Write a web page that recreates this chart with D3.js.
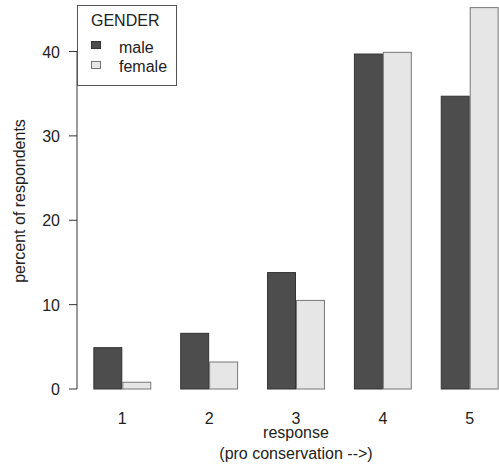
<!DOCTYPE html>
<html>
<head>
<meta charset="utf-8">
<script src="https://cdn.jsdelivr.net/npm/d3@7"></script>
<style>
    body { margin: 0; background: #fff; }
    svg { display: block; font-family: "Liberation Sans", Arial, sans-serif; }
    .tick-label, .axis-label, .legend text { fill: #222; font-size: 16px; }
</style>
</head>
<body>
<div id="chart"></div>
<script>
const width = 499;
const height = 470;

// data
const responses = ["1", "2", "3", "4", "5"];
const genders = ["male", "female"];
const male = [4.9, 6.6, 13.8, 39.7, 34.7];
const female = [0.8, 3.2, 10.5, 39.9, 45.2];
const yTicks = [0, 10, 20, 30, 40];

const colors = { male: "#4d4d4d", female: "#e6e6e6" };
const strokes = { male: "#333", female: "#777" };

const data = responses.map((r, i) => ({ response: r, male: male[i], female: female[i] }));

const svg = d3.select("#chart")
    .append("svg")
    .attr("width", width)
    .attr("height", height);

// SCALES
const x0 = d3.scaleBand()
    .domain(responses)
    .range([64.4, 527.6])
    .paddingInner(1 / 3)
    .paddingOuter(1 / 3);

const x1 = d3.scaleBand()
    .domain(genders)
    .range([0, x0.bandwidth()]);

const y = d3.scaleLinear()
    .domain([0, 40])
    .range([389, 51.5]);

const axisX = 77;

// Y AXIS
svg.append("line")
    .attr("x1", axisX).attr("x2", axisX)
    .attr("y1", y(0)).attr("y2", y(40))
    .attr("stroke", "#777")
    .attr("stroke-width", 1.5);

svg.selectAll(".ytick")
    .data(yTicks)
    .enter()
    .append("line")
    .attr("class", "ytick")
    .attr("x1", 69).attr("x2", axisX)
    .attr("y1", d => y(d)).attr("y2", d => y(d))
    .attr("stroke", "#333");

svg.selectAll(".ylab")
    .data(yTicks)
    .enter()
    .append("text")
    .attr("class", "tick-label")
    .attr("x", 60)
    .attr("y", d => y(d) + 6)
    .attr("text-anchor", "end")
    .text(d => d);

// BARS
const groups = svg.selectAll(".group")
    .data(data)
    .enter()
    .append("g")
    .attr("transform", d => `translate(${x0(d.response)},0)`);

groups.selectAll("rect")
    .data(d => genders.map(g => ({ key: g, value: d[g] })))
    .enter()
    .append("rect")
    .attr("x", d => x1(d.key) + 0.5)
    .attr("y", d => y(d.value))
    .attr("width", x1.bandwidth() - 1)
    .attr("height", d => y(0) - y(d.value))
    .attr("fill", d => colors[d.key])
    .attr("stroke", d => strokes[d.key])
    .attr("stroke-width", 1);

// X LABELS
svg.selectAll(".xlab")
    .data(responses)
    .enter()
    .append("text")
    .attr("class", "tick-label")
    .attr("x", d => x0(d) + x0.bandwidth() / 2)
    .attr("y", 424)
    .attr("text-anchor", "middle")
    .text(d => d);

const xc = (x0.range()[0] + x0.range()[1]) / 2;

svg.append("text")
    .attr("class", "axis-label")
    .attr("x", xc)
    .attr("y", 438)
    .attr("text-anchor", "middle")
    .text("response");

svg.append("text")
    .attr("class", "axis-label")
    .attr("x", xc)
    .attr("y", 459)
    .attr("text-anchor", "middle")
    .text("(pro conservation -->)");

// Y LABEL
svg.append("text")
    .attr("class", "axis-label")
    .attr("transform", "translate(25,201) rotate(-90)")
    .attr("text-anchor", "middle")
    .text("percent of respondents");

// LEGEND
const legend = svg.append("g").attr("class", "legend");

legend.append("rect")
    .attr("x", 77.5).attr("y", 5.5)
    .attr("width", 99).attr("height", 80)
    .attr("fill", "#fff")
    .attr("stroke", "#555");

legend.append("text")
    .attr("x", 91)
    .attr("y", 25.5)
    .text("GENDER");

genders.forEach((g, i) => {
    legend.append("rect")
        .attr("x", 91.5).attr("y", 41.5 + i * 20)
        .attr("width", 9).attr("height", 7)
        .attr("fill", colors[g])
        .attr("stroke", strokes[g]);
    legend.append("text")
        .attr("x", 119)
        .attr("y", 53 + i * 19)
        .text(g);
});
</script>
</body>
</html>
